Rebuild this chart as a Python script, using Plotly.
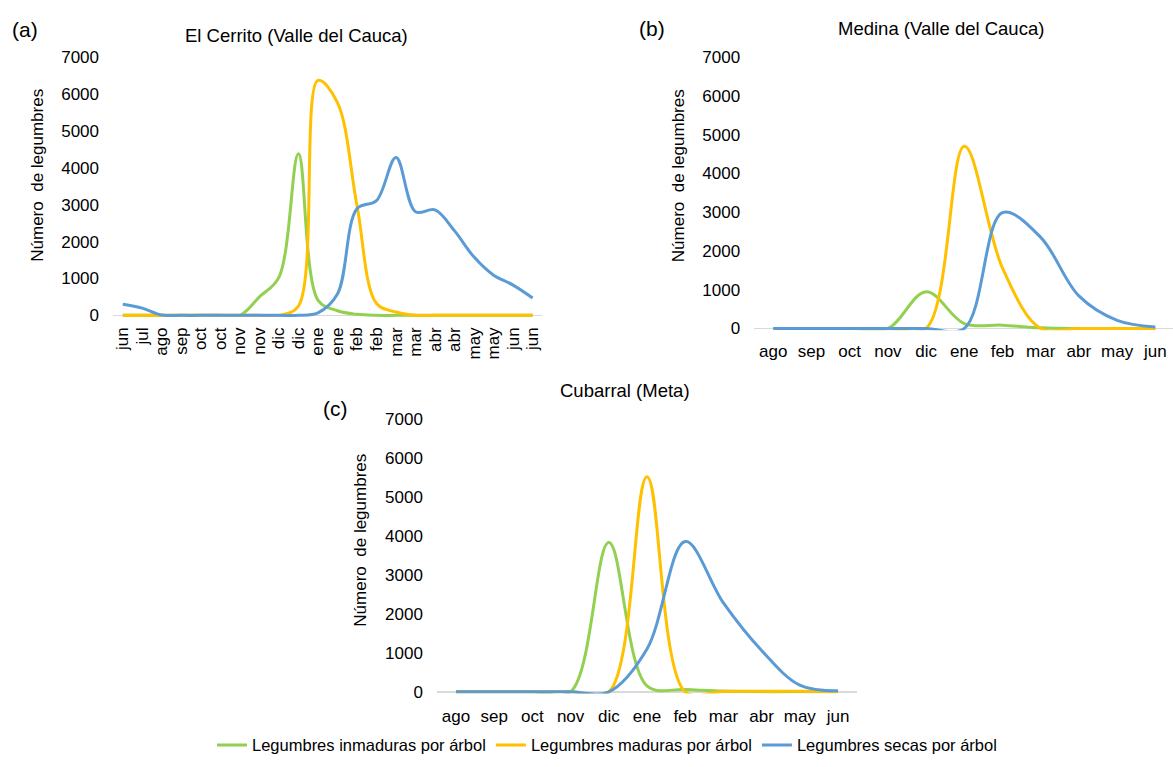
import plotly.graph_objects as go

# ---------------- data ----------------
a_months = ["jun", "jul", "ago", "sep", "oct", "oct", "nov", "nov", "dic", "dic", "ene",
            "ene", "feb", "feb", "mar", "mar", "abr", "abr", "may", "may", "jun", "jun"]
a_inmaduras = [0, 0, 0, 0, 0, 0, 0, 500, 1030, 4380, 415, 125, 27, 0, 0, 0, 0, 0, 0, 0, 0, 0]
a_maduras = [0, 0, 0, 0, 0, 0, 0, 0, 0, 250, 6370, 5770, 2980, 320, 90, 0, 0, 0, 0, 0, 0, 0]
a_secas = [300, 195, 10, 0, 0, 0, 0, 0, 0, 0, 70, 580, 2890, 3110, 4280, 2810, 2860, 2290,
           1580, 1090, 820, 470]

bc_months = ["ago", "sep", "oct", "nov", "dic", "ene", "feb", "mar", "abr", "may", "jun"]
b_inmaduras = [0, 0, 0, 0, 950, 125, 85, 17, 0, 0, 0]
b_maduras = [0, 0, 0, 0, 0, 4700, 1560, 0, 0, 0, 0]
b_secas = [0, 0, 0, 0, 0, 0, 2990, 2350, 840, 210, 40]

c_inmaduras = [0, 0, 0, 0, 3830, 150, 60, 20, 0, 0, 0]
c_maduras = [0, 0, 0, 0, 0, 5520, 0, 10, 15, 15, 0]
c_secas = [0, 0, 0, 0, 0, 1100, 3860, 2280, 1060, 170, 25]

series_names = ["Legumbres inmaduras por árbol", "Legumbres maduras por árbol",
                "Legumbres secas por árbol"]
yticks = [0, 1000, 2000, 3000, 4000, 5000, 6000, 7000]

# ---------------- style ----------------
W, H = 1173, 767
FONT = "Liberation Sans, Arial, sans-serif"
COLORS = ["#92D050", "#FFC000", "#5B9BD5"]
LO = -45


def xdom(left, right):
    return [left / W, min(right / W, 1.0)]


def ydom(p0, p7):
    bottom = p0 + (-LO) * (p0 - p7) / 7000.0
    return [1 - bottom / H, 1 - p7 / H]


fig = go.Figure()

panels = [
    ("", a_months, [a_inmaduras, a_maduras, a_secas], True),
    ("2", bc_months, [b_inmaduras, b_maduras, b_secas], False),
    ("3", bc_months, [c_inmaduras, c_maduras, c_secas], False),
]

for suffix, months, series, show in panels:
    xs = list(range(len(months)))
    for name, vals, col in zip(series_names, series, COLORS):
        fig.add_trace(go.Scatter(
            x=xs, y=vals, mode="lines", name=name,
            line=dict(color=col, width=3, shape="spline", smoothing=1),
            showlegend=show, xaxis="x" + suffix, yaxis="y" + suffix,
            hoverinfo="skip",
        ))

common_y = dict(range=[LO, 7000], tickvals=yticks, showgrid=False, showline=False,
                zeroline=True, zerolinecolor="#D9D9D9", zerolinewidth=1.5,
                ticks="", ticklabelstandoff=13,
                tickfont=dict(family=FONT, size=17, color="#000000"), fixedrange=True)
common_x = dict(showgrid=False, showline=False, zeroline=False, ticks="",
                tickfont=dict(family=FONT, size=17, color="#000000"), fixedrange=True)

fig.update_layout(
    xaxis=dict(domain=xdom(113, 542.4), range=[-0.5, 21.5], anchor="y",
               tickvals=list(range(len(a_months))), ticktext=a_months, tickangle=-90,
               ticklabelstandoff=6, **common_x),
    yaxis=dict(domain=ydom(313.3, 49.3), anchor="x", **common_y),
    xaxis2=dict(domain=xdom(754.2, 1174.5), range=[-0.5, -0.5 + (1173 - 754.2) / 38.2],
                anchor="y2", tickvals=list(range(len(bc_months))), ticktext=bc_months,
                tickangle=0, ticklabelstandoff=9, **common_x),
    yaxis2=dict(domain=ydom(326.7, 49.3), anchor="x2", **common_y),
    xaxis3=dict(domain=xdom(436.9, 857.1), range=[-0.5, 10.5], anchor="y3",
                tickvals=list(range(len(bc_months))), ticktext=bc_months,
                tickangle=0, ticklabelstandoff=10, **common_x),
    yaxis3=dict(domain=ydom(698.3, 419.3), anchor="x3", **common_y),
)


def ann(text, px, py, size, angle=0):
    return dict(text=text, x=px / W, y=1 - py / H, xref="paper", yref="paper",
                xanchor="center", yanchor="middle", showarrow=False, textangle=angle,
                font=dict(family=FONT, size=size, color="#000000"))


ytitle = "Número\u00a0 de legumbres"
annotations = [
    ann("El Cerrito (Valle del Cauca)", 296.5, 27, 18.5),
    ann("(a)", 25, 21, 21),
    ann(ytitle, 37.5, 170, 17, -90),
    ann("Medina (Valle del Cauca)", 940.7, 20, 18.5),
    ann("(b)", 651.7, 20, 21),
    ann(ytitle, 678, 171, 17, -90),
    ann("Cubarral (Meta)", 624.7, 390, 18.5),
    ann("(c)", 335, 409, 21),
    ann(ytitle, 360.7, 543, 17, -90),
]

fig.update_layout(
    width=W, height=H,
    margin=dict(l=0, r=0, t=0, b=0),
    paper_bgcolor="#FFFFFF", plot_bgcolor="#FFFFFF",
    font=dict(family=FONT, size=17, color="#000000"),
    annotations=annotations,
    showlegend=True,
    legend=dict(orientation="h", x=607 / W, xanchor="center", y=1 - 753 / H,
                yanchor="middle", font=dict(family=FONT, size=16.5, color="#000000"),
                itemwidth=30, tracegroupgap=0, bgcolor="rgba(0,0,0,0)"),
)

fig.write_html(
    "out.html",
    config={"displayModeBar": False, "staticPlot": True},
    post_script="document.body.style.margin='0';document.body.style.overflow='hidden';",
)
